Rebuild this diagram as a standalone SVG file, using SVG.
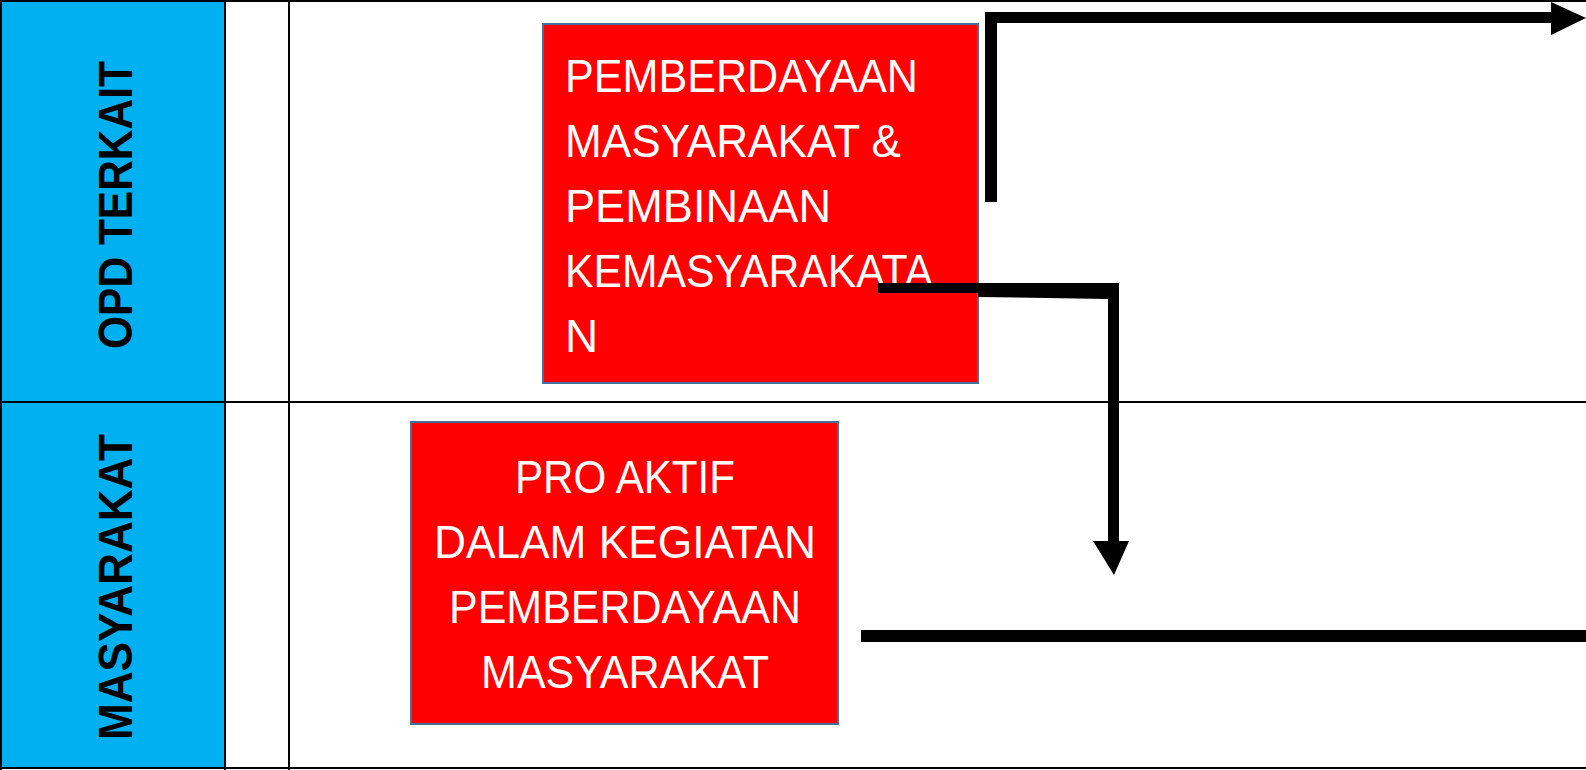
<svg xmlns="http://www.w3.org/2000/svg" width="1586" height="770" viewBox="0 0 1586 770">
<style>
.grid{stroke:#000;stroke-width:2;fill:none}
.lane{font-family:"Liberation Sans",Arial,sans-serif;font-weight:bold;font-size:48px;fill:#000;text-anchor:middle}
.box{fill:#FF0000;stroke:#41719C;stroke-width:2}
.bt{font-family:"Liberation Sans",Arial,sans-serif;font-size:46px;fill:#fff}
.conn{fill:#000;stroke:none}
</style>
<rect width="1586" height="770" fill="#fff"/>
<g id="swimlanes">
<rect x="0" y="0" width="225" height="769" fill="#00B0F0"/>
<path class="grid" d="M0 1H1586M0 402H1586M0 768H1586M1 0V770M225 0V770M289 0V770"/>
<text class="lane" transform="translate(132,205) rotate(-90)" textLength="288" lengthAdjust="spacingAndGlyphs">OPD TERKAIT</text>
<text class="lane" transform="translate(132,587) rotate(-90)" textLength="306" lengthAdjust="spacingAndGlyphs">MASYARAKAT</text>
</g>
<g id="node-pemberdayaan">
<rect class="box" x="543" y="24" width="435" height="359"/>
<text class="bt" x="565" y="92" textLength="353" lengthAdjust="spacingAndGlyphs">PEMBERDAYAAN</text>
<text class="bt" x="565" y="157" textLength="336" lengthAdjust="spacingAndGlyphs">MASYARAKAT &amp;</text>
<text class="bt" x="565" y="222" textLength="266" lengthAdjust="spacingAndGlyphs">PEMBINAAN</text>
<text class="bt" x="565" y="287" textLength="368" lengthAdjust="spacingAndGlyphs">KEMASYARAKATA</text>
<text class="bt" x="565" y="352">N</text>
</g>
<g id="node-proaktif">
<rect class="box" x="411" y="422" width="427" height="302"/>
<g text-anchor="middle">
<text class="bt" x="625" y="493" textLength="220" lengthAdjust="spacingAndGlyphs">PRO AKTIF</text>
<text class="bt" x="625" y="558" textLength="382" lengthAdjust="spacingAndGlyphs">DALAM KEGIATAN</text>
<text class="bt" x="625" y="623" textLength="352" lengthAdjust="spacingAndGlyphs">PEMBERDAYAAN</text>
<text class="bt" x="625" y="688" textLength="288" lengthAdjust="spacingAndGlyphs">MASYARAKAT</text>
</g>
</g>
<g id="connectors">
<polygon class="conn" points="985,202 997,202 997,23 1551,23 1551,12 985,12"/>
<polygon class="conn" points="1551,2 1586,18 1551,35"/>
<polygon class="conn" points="878,283 878,293 978,293 978,283"/>
<polygon class="conn" points="978,283 1119,283 1119,541 1108,541 1108,299 978,297"/>
<polygon class="conn" points="1093,541 1129,541 1114,575"/>
<rect class="conn" x="861" y="630" width="725" height="12"/>
</g>
</svg>
